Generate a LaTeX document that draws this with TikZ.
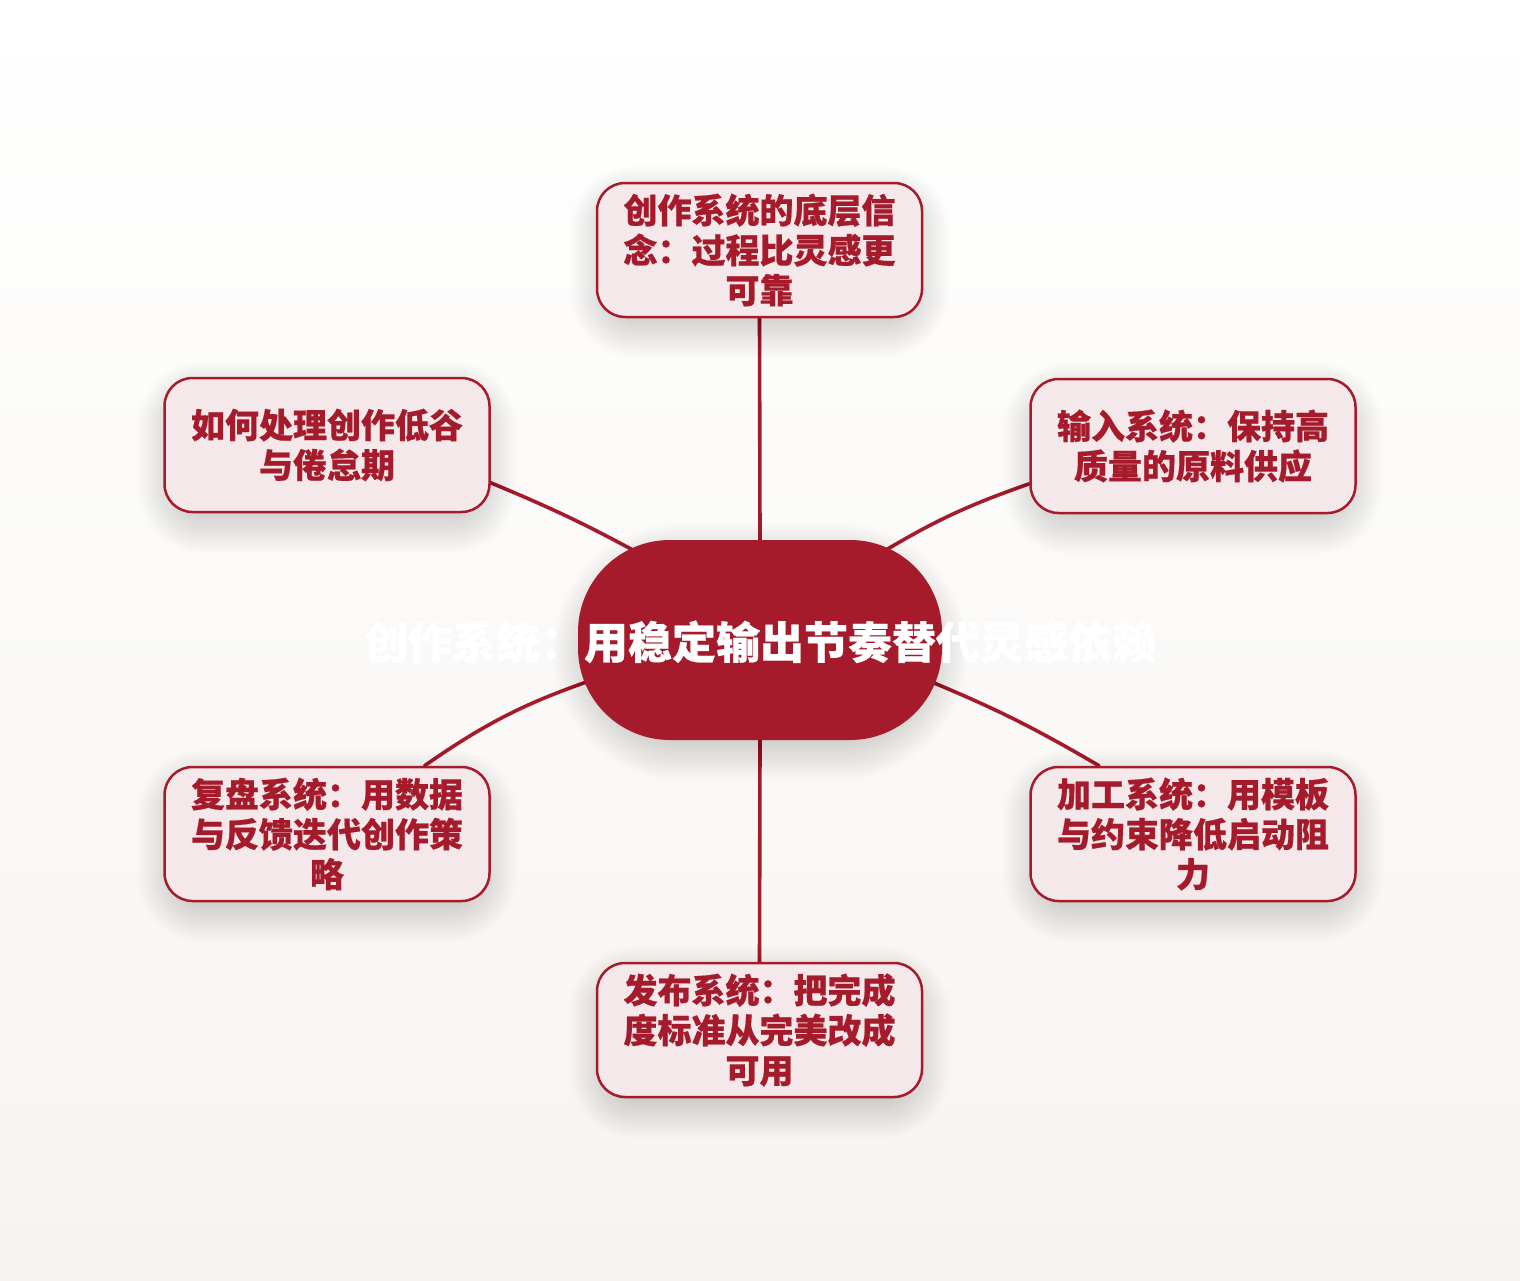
\documentclass[tikz,border=0pt]{standalone}
\usepackage{fontspec}
\newfontfamily\cjk{Noto Sans CJK SC}[BoldFeatures={FakeBold=0.5}]
\usetikzlibrary{calc}
\definecolor{dred}{HTML}{A51B2B}
\definecolor{pinkfill}{HTML}{F5E8EB}
\definecolor{bgbot}{HTML}{F6F4F0}
\pgfdeclarelayer{bg}
\pgfdeclarelayer{links}
\pgfdeclarelayer{shadow}
\pgfsetlayers{bg,links,shadow,main}
\tikzset{
  leaf/.style={draw=dred, line width=2.5pt, fill=pinkfill, rounded corners=28pt,
    minimum width=325pt, minimum height=134pt, inner sep=0pt, align=center,
    text=dred, font=\cjk\bfseries\fontsize{34pt}{40pt}\selectfont},
  hub/.style={fill=dred, rounded corners=92pt, minimum width=364pt, minimum height=200pt,
    inner sep=0pt},
  hubtext/.style={text=white, font=\cjk\bfseries\fontsize{44pt}{50pt}\selectfont, inner sep=0pt},
  link/.style={draw=dred, line width=3.6pt, line cap=round},
  shadowpiece/.style={fill=black, opacity=0.009}
}
% soft shadow under a named node: #1 node name, #2 corner radius
\newcommand{\softshadow}[2]{%
  \begin{pgfonlayer}{shadow}
  \foreach \k in {0,...,19}{%
    \fill[shadowpiece, rounded corners={#2+2*\k}]
      ($(#1.south west)+({-2*\k+12},{2*\k+2})$) rectangle ($(#1.north east)+({2*\k-12},{-2*\k+22})$);
  }%
  \end{pgfonlayer}}
\begin{document}
\begin{tikzpicture}[x=1pt,y=-1pt]
\begin{pgfonlayer}{bg}
\path[shade, top color=white, bottom color=bgbot] (0,0) rectangle (1520,1280);
\end{pgfonlayer}
\useasboundingbox (0,0) rectangle (1520,1280);

% nodes
\node[hub, label={[hubtext, yshift=-2pt]center:创作系统：用稳定输出节奏替代灵感依赖}] (c) at (760,640) {};
\node[leaf] (t)  at (759.5,250) {创作系统的底层信\\念：过程比灵感更\\可靠};
\node[leaf] (ur) at (1193,446) {输入系统：保持高\\质量的原料供应};
\node[leaf] (ul) at (327,445) {如何处理创作低谷\\与倦怠期};
\node[leaf] (ll) at (327,834) {复盘系统：用数据\\与反馈迭代创作策\\略};
\node[leaf] (lr) at (1193,834) {加工系统：用模板\\与约束降低启动阻\\力};
\node[leaf] (b)  at (759.5,1030) {发布系统：把完成\\度标准从完美改成\\可用};

\softshadow{c}{92}
\softshadow{t}{28}
\softshadow{ur}{28}
\softshadow{ul}{28}
\softshadow{ll}{28}
\softshadow{lr}{28}
\softshadow{b}{28}

% connectors (behind nodes)
\begin{pgfonlayer}{links}
\draw[link] (t.south) -- (c.north);
\draw[link] (b.north) -- (c.south);
\draw[link] (ul.-13.8) to[bend left=3] ($(c.center)+(-116,-84)$);
\draw[link] (ur.193.8) to[bend right=6] ($(c.center)+(116,-84)$);
\draw[link] (ll.35.8) to[bend left=8] ($(c.center)+(-162,38)$);
\draw[link] (lr.144.2) to[bend right=4] ($(c.center)+(162,38)$);
\end{pgfonlayer}
\end{tikzpicture}
\end{document}
